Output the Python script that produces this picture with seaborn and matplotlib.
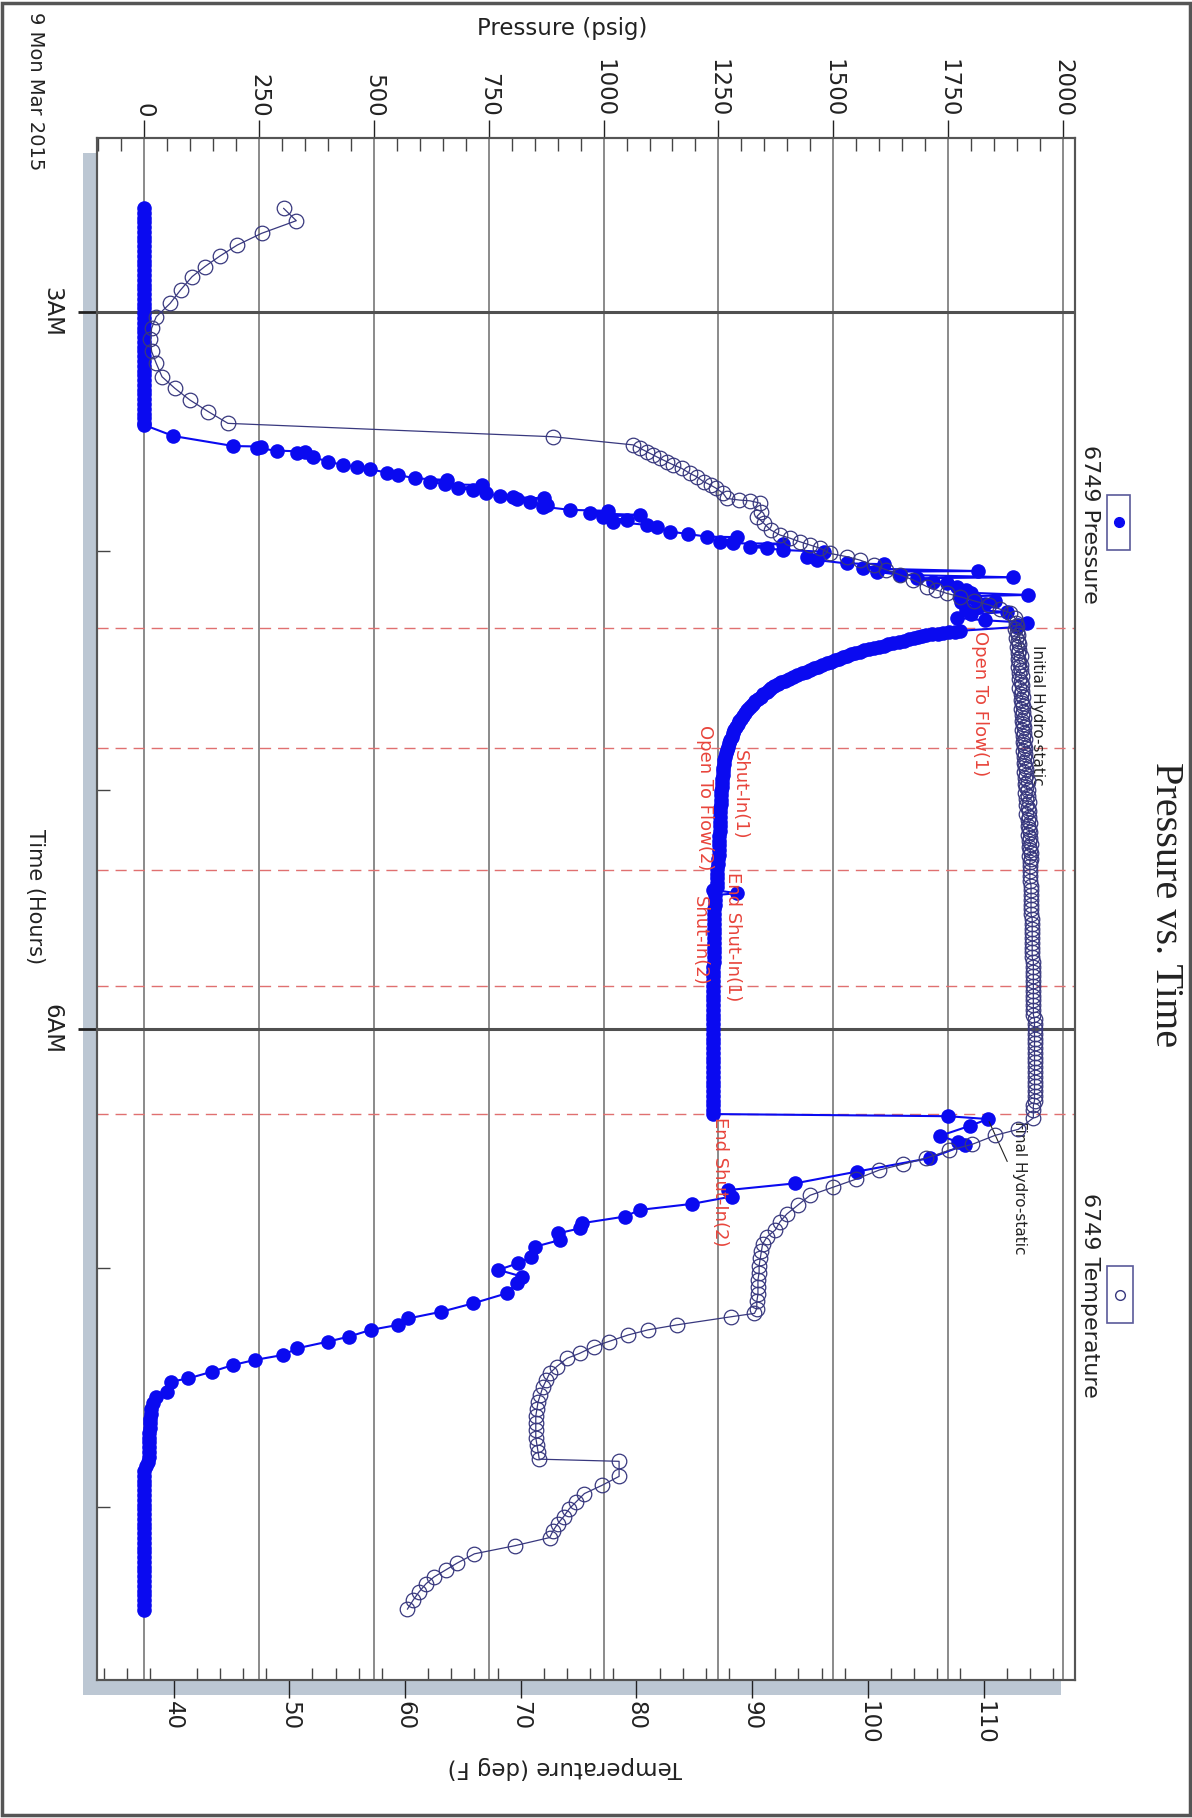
import pandas as pd
import seaborn as sns
import matplotlib.pyplot as plt
from matplotlib.patches import Rectangle
from matplotlib.lines import Line2D
from matplotlib.ticker import MultipleLocator, FixedLocator

# gauge 6749, 9 Mar 2015 - time in decimal hours of the day
press_h = [
    2.565, 2.585, 2.605, 2.625, 2.645, 2.665, 2.685, 2.705, 2.725, 2.745,
    2.765, 2.785, 2.805, 2.825, 2.845, 2.865, 2.885, 2.905, 2.925, 2.945,
    2.965, 2.985, 3.005, 3.025, 3.045, 3.065, 3.085, 3.105, 3.125, 3.145,
    3.165, 3.185, 3.205, 3.225, 3.245, 3.265, 3.285, 3.305, 3.325, 3.345,
    3.365, 3.385, 3.405, 3.425, 3.445, 3.465, 3.473,
    # running in
    3.519, 3.561, 3.563, 3.570, 3.580, 3.584, 3.591, 3.608, 3.626, 3.640,
    3.647, 3.658, 3.672, 3.682, 3.696, 3.703, 3.710, 3.721, 3.724, 3.738,
    3.745, 3.759, 3.770, 3.774, 3.780, 3.784, 3.794, 3.808, 3.815, 3.828,
    3.832, 3.842, 3.849, 3.856, 3.870, 3.877, 3.891, 3.901, 3.919, 3.929,
    3.940, 3.942, 3.961, 3.968, 3.969, 3.982, 3.989, 3.996, 4.003, 4.024,
    4.038, 4.052, 4.055, 4.073, 4.084, 4.087, 4.100, 4.110, 4.114, 4.128,
    4.135,
    # on bottom / initial hydrostatic
    4.150, 4.165, 4.175, 4.184, 4.190, 4.200, 4.210, 4.215, 4.222, 4.235,
    4.245, 4.255, 4.265, 4.280, 4.290, 4.300, 4.308, 4.318,
    # flow / shut-in 1
    4.334, 4.337, 4.340, 4.343, 4.346, 4.349, 4.351, 4.355, 4.360, 4.365,
    4.370, 4.375, 4.380, 4.386, 4.391, 4.396, 4.401, 4.406, 4.411, 4.416,
    4.421, 4.427, 4.433, 4.439, 4.445, 4.451, 4.457, 4.463, 4.470, 4.477,
    4.484, 4.491, 4.498, 4.505, 4.512, 4.519, 4.526, 4.534, 4.542, 4.550,
    4.558, 4.566, 4.574, 4.582, 4.589, 4.599, 4.609, 4.619, 4.629, 4.639,
    4.649, 4.657, 4.665, 4.677, 4.689, 4.701, 4.713, 4.725, 4.737, 4.750,
    4.763, 4.777, 4.791, 4.805, 4.819, 4.833, 4.847, 4.861, 4.876, 4.891,
    4.906, 4.921, 4.937, 4.953, 4.969, 4.986, 5.004, 5.022, 5.040, 5.058,
    5.076, 5.094, 5.112, 5.132, 5.152, 5.172, 5.192, 5.212, 5.232, 5.251,
    5.270, 5.290, 5.310, 5.330, 5.350, 5.370, 5.390, 5.405,
    5.418, 5.432, 5.440,
    # flow 2 / shut-in 2
    5.46, 5.48, 5.50, 5.52, 5.54, 5.56, 5.58, 5.60, 5.62, 5.64,
    5.66, 5.68, 5.70, 5.72, 5.74, 5.76, 5.78, 5.80, 5.82, 5.84,
    5.86, 5.88, 5.90, 5.92, 5.94, 5.96, 5.98, 6.00, 6.02, 6.04,
    6.06, 6.08, 6.10, 6.12, 6.14, 6.16, 6.18, 6.20, 6.22, 6.24,
    6.26, 6.28, 6.30, 6.32, 6.34, 6.356,
    # final hydrostatic / pulling out
    6.365, 6.377, 6.405, 6.447, 6.473, 6.485, 6.540, 6.597, 6.646, 6.674,
    6.701, 6.732, 6.757, 6.785, 6.813, 6.834, 6.855, 6.883, 6.911, 6.953,
    6.980, 7.008, 7.036, 7.064, 7.106, 7.148, 7.183, 7.211, 7.238, 7.259,
    7.287, 7.308, 7.336, 7.364, 7.385, 7.406, 7.434, 7.462, 7.476, 7.518,
    7.539, 7.565, 7.590, 7.610,
    7.63, 7.65, 7.67, 7.69, 7.71, 7.73, 7.75, 7.77, 7.79, 7.81,
    7.83, 7.85, 7.87, 7.89, 7.91, 7.93, 7.95, 7.97, 7.99, 8.01,
    8.03, 8.05, 8.07, 8.09, 8.11, 8.13, 8.15, 8.17, 8.19, 8.21,
    8.23, 8.25, 8.27, 8.29, 8.31, 8.33, 8.35, 8.37, 8.39, 8.41, 8.43,
]
press_psig = [
    0, 0, 0, 0, 0, 0, 0, 0, 0, 0,
    0, 0, 0, 0, 0, 0, 0, 0, 0, 0,
    0, 0, 0, 0, 0, 0, 0, 0, 0, 0,
    0, 0, 0, 0, 0, 0, 0, 0, 0, 0,
    0, 0, 0, 0, 0, 0, 0,
    63, 194, 255, 245, 288, 350, 332, 368, 400, 433,
    462, 491, 528, 553, 589, 660, 622, 655, 735, 684,
    716, 745, 774, 803, 870, 811, 840, 876, 869, 927,
    1010, 970, 1080, 999, 1050, 1021, 1094, 1116, 1145, 1184,
    1225, 1290, 1254, 1282, 1390, 1319, 1355, 1391, 1480, 1442,
    1464, 1529, 1610, 1566, 1816, 1595, 1645, 1892, 1682, 1718,
    1747,
    1770, 1790, 1800, 1925, 1776, 1808, 1853, 1778, 1830, 1816,
    1790, 1879, 1800, 1770, 1830, 1922, 1903, 1900,
    1777, 1765, 1752, 1740, 1728, 1715, 1703, 1694, 1685, 1675,
    1665, 1655, 1644, 1631, 1620, 1610, 1600, 1589, 1579, 1568,
    1558, 1548, 1539, 1530, 1521, 1512, 1503, 1495, 1486, 1476,
    1467, 1458, 1449, 1440, 1431, 1422, 1413, 1404, 1395, 1387,
    1379, 1372, 1365, 1360, 1355, 1348, 1342, 1336, 1330, 1325,
    1320, 1316, 1312, 1308, 1303, 1299, 1295, 1292, 1289, 1285,
    1282, 1279, 1276, 1273, 1270, 1268, 1266, 1264, 1263, 1262,
    1261, 1260, 1259, 1258, 1258, 1257, 1256, 1256, 1255, 1255,
    1254, 1254, 1253, 1253, 1253, 1253, 1252, 1252, 1252, 1252,
    1251, 1250, 1249, 1248, 1248, 1247, 1246, 1246,
    1239, 1290, 1243,
    1242, 1242, 1241, 1241, 1241, 1241, 1240, 1240, 1240, 1240,
    1240, 1240, 1240, 1240, 1239, 1239, 1239, 1239, 1239, 1239,
    1239, 1239, 1239, 1239, 1239, 1239, 1239, 1239, 1239, 1239,
    1239, 1239, 1239, 1239, 1239, 1239, 1239, 1239, 1239, 1239,
    1239, 1239, 1239, 1239, 1239, 1239,
    1750, 1837, 1798, 1733, 1772, 1787, 1711, 1551, 1417, 1272,
    1279, 1192, 1079, 1046, 952, 949, 901, 905, 851, 843,
    814, 771, 822, 811, 789, 716, 647, 575, 553, 493,
    446, 400, 333, 302, 240, 193, 147, 96, 57, 49,
    26, 18, 15, 14,
    13, 12, 12, 11, 11, 10, 10, 9, 9, 8,
    3, 0, 0, 0, 0, 0, 0, 0, 0, 0,
    0, 0, 0, 0, 0, 0, 0, 0, 0, 0,
    0, 0, 0, 0, 0, 0, 0, 0, 0, 0, 0,
]

temp_h = [
    2.566, 2.618, 2.671, 2.720, 2.766, 2.810, 2.852, 2.908, 2.964, 3.020,
    3.068, 3.115, 3.165, 3.215, 3.271, 3.319, 3.368, 3.417, 3.466, 3.522,
    3.556, 3.570, 3.585, 3.598, 3.612, 3.626, 3.640, 3.654, 3.675, 3.689,
    3.710, 3.724, 3.738, 3.759, 3.780, 3.787, 3.790, 3.800, 3.836, 3.856,
    3.884, 3.912, 3.933, 3.947, 3.961, 3.975, 3.989, 4.010, 4.024, 4.038,
    4.059, 4.079, 4.100, 4.121, 4.149, 4.163, 4.177, 4.192, 4.209, 4.226,
    4.243, 4.259, 4.280,
    4.3000, 4.3125, 4.3250, 4.3375, 4.3500, 4.3625, 4.3750, 4.3875, 4.4000, 4.4125,
    4.4250, 4.4375, 4.4500, 4.4625, 4.4750, 4.4875, 4.5000, 4.5125, 4.5250, 4.5375,
    4.5500, 4.5625, 4.5750, 4.5875, 4.6000, 4.6125, 4.6250, 4.6375, 4.6500, 4.6625,
    4.6750, 4.6875, 4.7000, 4.7125, 4.7250, 4.7375, 4.7500, 4.7625, 4.7750, 4.7875,
    4.8000, 4.8125, 4.8250, 4.8375, 4.8500, 4.8625, 4.8750, 4.8875, 4.9000, 4.9125,
    4.9250, 4.9375, 4.9500, 4.9625, 4.9750, 4.9875, 5.0000, 5.0125, 5.0250, 5.0375,
    5.0500, 5.0625, 5.0750, 5.0875, 5.1000, 5.1125, 5.1250, 5.1375, 5.1500, 5.1625,
    5.1750, 5.1875, 5.2000, 5.2125, 5.2250, 5.2375, 5.2500, 5.2625, 5.2750, 5.2875,
    5.3000,
    5.32, 5.34, 5.36, 5.38, 5.40, 5.42, 5.44, 5.46, 5.48, 5.50,
    5.52, 5.54, 5.56, 5.58, 5.60, 5.62, 5.64, 5.66, 5.68, 5.70,
    5.72, 5.74, 5.76, 5.78, 5.80, 5.82, 5.84, 5.86, 5.88, 5.90,
    5.92, 5.94, 5.96, 5.98, 6.00, 6.02, 6.04, 6.06, 6.08, 6.10,
    6.12, 6.14, 6.16, 6.18, 6.20, 6.22, 6.24, 6.26, 6.28, 6.30,
    6.32, 6.34,
    6.372, 6.420, 6.445, 6.483, 6.508, 6.541, 6.566, 6.590, 6.628, 6.662,
    6.696, 6.735, 6.774, 6.807, 6.841, 6.869, 6.900, 6.930, 6.960, 6.990,
    7.020, 7.050, 7.080, 7.110, 7.140, 7.170, 7.190, 7.204, 7.238, 7.259,
    7.280, 7.308, 7.329, 7.357, 7.378, 7.413, 7.441, 7.470, 7.500, 7.530,
    7.560, 7.590, 7.620, 7.650, 7.680, 7.710, 7.740, 7.770, 7.800, 7.809,
    7.872, 7.910, 7.944, 7.978, 8.007, 8.041, 8.070, 8.099, 8.128, 8.162,
    8.196, 8.235, 8.264, 8.293, 8.322, 8.356, 8.390, 8.428,
]
temp_degf = [
    49.5, 50.6, 47.6, 45.5, 44.0, 42.7, 41.6, 40.6, 39.7, 38.5,
    38.1, 38.0, 38.1, 38.5, 39.0, 40.1, 41.4, 43.0, 44.7, 72.8,
    79.7, 80.3, 80.9, 81.4, 82.0, 82.6, 83.2, 83.9, 84.6, 85.2,
    85.8, 86.4, 86.9, 87.5, 87.8, 88.9, 89.8, 90.7, 90.8, 90.4,
    91.0, 91.6, 92.4, 93.3, 94.1, 95.0, 95.9, 96.7, 98.2, 99.3,
    100.5, 101.6, 102.8, 103.9, 105.1, 105.9, 106.8, 108.0, 109.2, 110.5,
    111.4, 112.3, 112.7,
    112.8, 112.9, 112.7, 112.9, 113.0, 112.8, 113.0, 113.1, 112.9, 113.1,
    113.0, 113.2, 113.0, 113.1, 113.2, 113.0, 113.2, 113.1, 113.3, 113.1,
    113.2, 113.3, 113.1, 113.3, 113.2, 113.4, 113.2, 113.3, 113.4, 113.2,
    113.4, 113.3, 113.5, 113.3, 113.4, 113.5, 113.3, 113.5, 113.4, 113.6,
    113.4, 113.5, 113.6, 113.4, 113.6, 113.5, 113.7, 113.5, 113.6, 113.7,
    113.5, 113.7, 113.6, 113.8, 113.6, 113.7, 113.8, 113.6, 113.8, 113.7,
    113.9, 113.7, 113.8, 113.9, 113.7, 113.9, 113.8, 114.0, 113.8, 113.9,
    114.0, 113.8, 114.0, 113.9, 114.1, 113.9, 114.0, 114.1, 113.9, 114.1,
    114.0,
    114.0, 114.0, 114.0, 114.0, 114.1, 114.1, 114.1, 114.1, 114.1, 114.1,
    114.1, 114.2, 114.2, 114.2, 114.2, 114.2, 114.2, 114.2, 114.2, 114.2,
    114.3, 114.3, 114.3, 114.3, 114.3, 114.3, 114.3, 114.3, 114.3, 114.3,
    114.3, 114.3, 114.4, 114.4, 114.4, 114.4, 114.4, 114.4, 114.4, 114.4,
    114.4, 114.4, 114.4, 114.4, 114.4, 114.4, 114.4, 114.4, 114.4, 114.4,
    114.3, 114.3,
    114.3, 113.0, 111.0, 109.0, 107.0, 105.0, 103.0, 101.0, 99.0, 97.0,
    95.0, 94.0, 93.0, 92.4, 92.0, 91.3, 90.9, 90.8, 90.7, 90.6,
    90.6, 90.5, 90.5, 90.5, 90.4, 90.4, 90.2, 88.2, 83.5, 81.0,
    79.3, 77.6, 76.3, 75.1, 74.0, 73.1, 72.5, 72.2, 71.9, 71.7,
    71.5, 71.4, 71.3, 71.3, 71.3, 71.3, 71.4, 71.5, 71.6, 78.5,
    78.5, 77.0, 75.5, 74.8, 74.2, 73.7, 73.2, 72.8, 72.5, 69.5,
    66.0, 64.5, 63.5, 62.5, 61.8, 61.2, 60.7, 60.2,
]

event_h = [4.322, 4.824, 5.335, 5.820, 6.356]
time_ticks = [3, 6]
time_labels = ['3AM', '6AM']
press_ticks = list(range(0, 2001, 250))
temp_ticks = list(range(40, 111, 10))

W, H = 1192, 1818
def fx(px):
    return px / W
def fy(py):
    return 1 - py / H

sns.set_theme(style='white')
plt.rcParams['font.family'] = ['DejaVu Sans']

blue = '#0a0af0'
navy = '#38387e'
red = '#e8453c'
frame = '#555555'

fig = plt.figure(figsize=(W / 100, H / 100), dpi=100)
ax = fig.add_axes([fx(97), fy(1680), fx(1075) - fx(97), fy(138) - fy(1680)])
ax_t = ax.twiny()

# drop shadow + outer border
fig.add_artist(Rectangle((fx(83), fy(1695)), fx(1061) - fx(83), fy(153) - fy(1695),
                         transform=fig.transFigure, facecolor='#bcc7d3',
                         edgecolor='none', zorder=-1))
fig.add_artist(Rectangle((0.002, 0.0015), 0.996, 0.997, transform=fig.transFigure,
                         fill=False, edgecolor='#555555', lw=2.5, zorder=10))

# grid
for p in press_ticks:
    ax.axvline(p, color='#8a8a8a', lw=1.4, zorder=0.5)
for t in time_ticks:
    ax.axhline(t, color='#505050', lw=2.2, zorder=0.6)
for e in event_h:
    ax.axhline(e, color='#e07070', lw=1.0, ls=(0, (8, 5)), zorder=0.7)

df_p = pd.DataFrame({'psig': press_psig, 'hours': press_h})
sns.lineplot(data=df_p, x='psig', y='hours', ax=ax, sort=False, estimator=None,
             color=blue, lw=1.5, marker='o', markersize=10.5, markeredgewidth=0,
             markeredgecolor=blue, legend=False, zorder=3)

df_t = pd.DataFrame({'degf': temp_degf, 'hours': temp_h})
sns.lineplot(data=df_t, x='degf', y='hours', ax=ax_t, sort=False, estimator=None,
             color=navy, lw=0.9, marker='o', markersize=10.5, markerfacecolor='none',
             markeredgecolor=navy, markeredgewidth=0.9, legend=False, zorder=2)

# pressure axis on top
ax.xaxis.tick_top()
ax.set_xlim(-103.2, 2026.6)
ax.set_xticks(press_ticks)
ax.set_xticklabels([str(p) for p in press_ticks])
ax.xaxis.set_minor_locator(MultipleLocator(50))
ax.tick_params(axis='x', which='major', direction='out', length=13, width=1,
               pad=2, labelsize=16.5, labelrotation=-90, top=True, bottom=False,
               labeltop=True, labelbottom=False, colors='#222222')
ax.tick_params(axis='x', which='minor', direction='in', length=9, width=1,
               top=True, bottom=False, color='#444444')

# time axis on left
ax.set_ylim(8.724, 2.272)
ax.set_yticks(time_ticks)
ax.set_yticklabels(time_labels, rotation=-90, va='center')
ax.yaxis.set_minor_locator(FixedLocator([4, 5, 7, 8]))
ax.tick_params(axis='y', which='major', direction='out', length=14, width=2,
               pad=10, labelsize=16.5, left=True, right=False, colors='#222222')
ax.tick_params(axis='y', which='minor', direction='in', length=9, width=1,
               left=True, right=False, color='#444444')
ax.set_xlabel('')
ax.set_ylabel('')

# temperature axis on bottom
ax_t.xaxis.set_ticks_position('bottom')
ax_t.set_xlim(33.38, 117.9)
ax_t.set_xticks(temp_ticks)
ax_t.set_xticklabels([str(t) for t in temp_ticks])
ax_t.xaxis.set_minor_locator(MultipleLocator(2))
ax_t.tick_params(axis='x', which='major', direction='out', length=13, width=1,
                 pad=2, labelsize=16.5, labelrotation=-90, colors='#222222',
                 bottom=True, top=False, labelbottom=True, labeltop=False)
ax_t.tick_params(axis='x', which='minor', direction='in', length=9, width=1,
                 bottom=True, top=False, color='#444444')
ax_t.set_xlabel('')
ax_t.set_ylabel('')
ax_t.set_ylim(8.724, 2.272)

for a in (ax, ax_t):
    for s in a.spines.values():
        s.set_color(frame)
        s.set_linewidth(1.5)

# event labels
ax.text(1820, 4.335, 'Open To Flow(1)', rotation=-90, color=red, fontsize=13,
        ha='center', va='top', zorder=4)
ax.text(1297, 4.833, 'Shut-In(1)', rotation=-90, color=red, fontsize=13,
        ha='center', va='top', zorder=4)
ax.text(1221, 5.335, 'Open To Flow(2)', rotation=-90, color=red, fontsize=13,
        ha='center', va='bottom', zorder=4)
ax.text(1282, 5.343, 'End Shut-In(1)', rotation=-90, color=red, fontsize=13,
        ha='center', va='top', zorder=4)
ax.text(1210, 5.820, 'Shut-In(2)', rotation=-90, color=red, fontsize=13,
        ha='center', va='bottom', zorder=4)
ax.text(1254, 6.368, 'End Shut-In(2)', rotation=-90, color=red, fontsize=13,
        ha='center', va='top', zorder=4)
ax.annotate('Initial Hydro-static', xy=(1900, 4.318), xytext=(1946, 4.393),
            rotation=-90, fontsize=11, color='#222222', ha='center', va='top',
            arrowprops=dict(arrowstyle='-', color='#222222', lw=0.8), zorder=4)
ax.annotate('Final Hydro-static', xy=(1837, 6.377), xytext=(1905, 6.385),
            rotation=-90, fontsize=11, color='#222222', ha='center', va='top',
            arrowprops=dict(arrowstyle='-', color='#222222', lw=0.8), zorder=4)

# axis titles
fig.text(fx(562), fy(28), 'Pressure (psig)', ha='center', va='center',
         fontsize=16.5, color='#222222')
fig.text(fx(565), fy(1768), 'Temperature (deg F)', rotation=180, ha='center',
         va='center', fontsize=16.5, color='#222222')
fig.text(fx(35), fy(897), 'Time (Hours)', rotation=-90, ha='center', va='center',
         fontsize=15, color='#222222')
fig.text(fx(35), fy(12), '9 Mon Mar 2015', rotation=-90, ha='center', va='top',
         fontsize=14, color='#222222')
fig.text(fx(1165), fy(905), 'Pressure vs. Time', rotation=-90, ha='center',
         va='center', fontsize=29, family=['Liberation Serif', 'DejaVu Serif'],
         color='#222222')

# legend
fig.add_artist(Rectangle((fx(1107), fy(550)), fx(1130) - fx(1107), fy(495) - fy(550),
                         transform=fig.transFigure, facecolor='white',
                         edgecolor='#5a5a9a', lw=1.2, zorder=5))
fig.add_artist(Line2D([fx(1118.5)], [fy(522)], transform=fig.transFigure, marker='o',
                      color=blue, markersize=7, zorder=6))
fig.text(fx(1090), fy(524), '6749 Pressure', rotation=-90, ha='center', va='center',
         fontsize=16, color='#222222')
fig.add_artist(Rectangle((fx(1107), fy(1323)), fx(1133) - fx(1107), fy(1266) - fy(1323),
                         transform=fig.transFigure, facecolor='white',
                         edgecolor='#5a5a9a', lw=1.2, zorder=5))
fig.add_artist(Line2D([fx(1120)], [fy(1295)], transform=fig.transFigure, marker='o',
                      markerfacecolor='none', markeredgecolor=navy, markersize=7,
                      zorder=6))
fig.text(fx(1090), fy(1295), '6749 Temperature', rotation=-90, ha='center',
         va='center', fontsize=16, color='#222222')

fig.savefig('out.png', dpi=100)
